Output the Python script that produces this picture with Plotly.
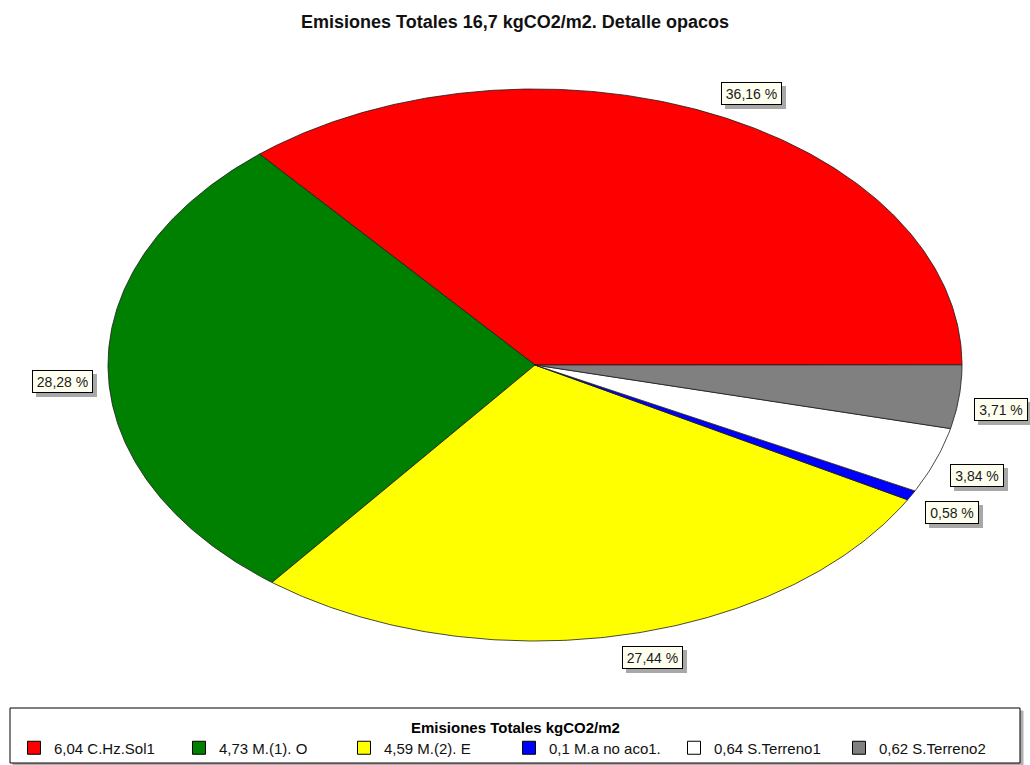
import numpy as np
import plotly.graph_objects as go

# Emission breakdown of opaque elements (kgCO2/m2) and share of each one (%)
categories = ["C.Hz.Sol1", "M.(1). O", "M.(2). E", "M.a no aco1.", "S.Terreno1", "S.Terreno2"]
emissions = [6.04, 4.73, 4.59, 0.1, 0.64, 0.62]
shares_pct = [36.16, 28.28, 27.44, 0.58, 3.84, 3.71]
colors = ["#ff0000", "#008000", "#ffff00", "#0000ff", "#ffffff", "#808080"]
total_emissions = 16.7

W, H = 1030, 765
FONT = "Arial, Liberation Sans, sans-serif"

# Ellipse geometry in pixels (centre and semi-axes); axis ranges keep room for labels
CX, CY, RX, RY = 535, 365, 427, 276
XR = (-1.2, 1.15)
YR = (-1.2, 1.2)


def es_num(v, nd=None):
    s = f"{v:.{nd}f}" if nd is not None else f"{v:g}"
    return s.replace(".", ",")


fig = go.Figure()

# Elliptical pie: each wedge drawn on a unit circle, stretched by the axis domains
cum = 0.0
label_specs = []
for name, pct, col in zip(categories, shares_pct, colors):
    a0 = 360.0 * cum / 100.0
    a1 = 360.0 * (cum + pct) / 100.0
    n = max(3, int((a1 - a0) * 2))
    t = np.radians(np.linspace(a0, a1, n))
    xs = np.concatenate([[0.0], np.cos(t), [0.0]])
    ys = np.concatenate([[0.0], np.sin(t), [0.0]])
    fig.add_trace(go.Scatter(
        x=xs, y=ys, mode="lines", fill="toself", fillcolor=col,
        line=dict(color="#1a1a1a", width=0.8), hoverinfo="skip",
        showlegend=False,
    ))
    mid = np.radians((a0 + a1) / 2.0)
    label_specs.append((pct, np.cos(mid), np.sin(mid)))
    cum += pct

# Legend entries
for name, val, col in zip(categories, emissions, colors):
    fig.add_trace(go.Scatter(
        x=[None], y=[None], mode="markers",
        marker=dict(symbol="square", size=13, color=col,
                    line=dict(color="#000000", width=1)),
        name=f"{es_num(val)} {name}",
    ))

# Percentage labels with drop shadow
annotations = []
for pct, c, s in label_specs:
    ax, ay = 1.035 * c, 1.04 * s
    xa = "left" if c >= 0 else "right"
    ya = "bottom" if s > 0 else "top"
    txt = f"{es_num(pct, 2)} %"
    box_w = round(len(txt) * 7.3 + 4)
    common = dict(x=ax, y=ay, xref="x", yref="y", xanchor=xa, yanchor=ya,
                  showarrow=False, borderwidth=1, borderpad=2,
                  width=box_w, height=17, align="center")
    annotations.append(dict(common, text=" ", xshift=4, yshift=-4,
                            bgcolor="#a8a8a8", bordercolor="#a8a8a8",
                            font=dict(family=FONT, size=14)))
    annotations.append(dict(common, text=txt, bgcolor="#fffff0",
                            bordercolor="#000000",
                            font=dict(family=FONT, size=14, color="#1a1a1a")))

annotations.append(dict(
    text="<b>Emisiones Totales kgCO2/m2</b>", x=0.5, y=1 - 727 / H,
    xref="paper", yref="paper", xanchor="center", yanchor="middle",
    showarrow=False, font=dict(family=FONT, size=15, color="#000000"),
))

shapes = [
    dict(type="rect", xref="paper", yref="paper", layer="below",
         x0=13 / W, x1=1023 / W, y0=1 - 766 / H, y1=1 - 711 / H,
         line=dict(color="#b0b0b0", width=1), fillcolor="#b0b0b0"),
    dict(type="rect", xref="paper", yref="paper", layer="below",
         x0=10 / W, x1=1020 / W, y0=1 - 763 / H, y1=1 - 708 / H,
         line=dict(color="#000000", width=1), fillcolor="#ffffff"),
]

x_dom = [(CX + XR[0] * RX) / W, (CX + XR[1] * RX) / W]
y_dom = [1 - (CY - YR[0] * RY) / H, 1 - (CY - YR[1] * RY) / H]

fig.update_layout(
    width=W, height=H,
    margin=dict(l=0, r=0, t=0, b=0),
    paper_bgcolor="#ffffff", plot_bgcolor="rgba(0,0,0,0)",
    title=dict(text=f"<b>Emisiones Totales {es_num(total_emissions)} kgCO2/m2. Detalle opacos</b>",
               x=0.5, xanchor="center", y=1 - 22 / H, yanchor="middle",
               font=dict(family=FONT, size=18, color="#111111")),
    xaxis=dict(range=list(XR), domain=x_dom, visible=False, fixedrange=True),
    yaxis=dict(range=list(YR), domain=y_dom, visible=False, fixedrange=True),
    showlegend=True,
    legend=dict(orientation="h", x=14 / W, xanchor="left",
                y=1 - 748 / H, yanchor="middle",
                bgcolor="rgba(0,0,0,0)", borderwidth=0,
                entrywidth=120, entrywidthmode="pixels",
                itemwidth=30, tracegroupgap=0,
                font=dict(family=FONT, size=15, color="#111111")),
    annotations=annotations,
    shapes=shapes,
)

fig.write_html("out.html")
